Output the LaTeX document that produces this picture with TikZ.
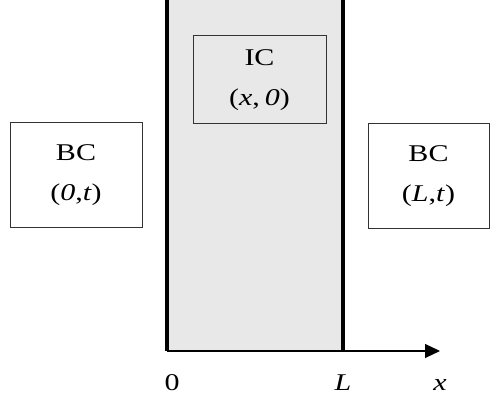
\documentclass[tikz,border=0pt]{standalone}
\usepackage{fontspec}
\usepackage{graphicx}
\setmainfont{Liberation Serif}
\usetikzlibrary{arrows.meta}
\tikzset{
	condbox/.style={draw=black!80, line width=1pt, align=center, inner sep=0pt,
		font=\fontsize{24}{40}\selectfont},
	wall/.style={line width=4pt},
	axislabel/.style={font=\fontsize{24}{28}\selectfont}
}
\newcommand{\wide}[1]{\scalebox{1.25}[1]{#1}}
\newcommand{\cond}[2]{\wide{#1}\\\wide{#2}}
\begin{document}
\begin{tikzpicture}[x=1pt,y=1pt]
			\useasboundingbox (0,0) rectangle (490,404);
			\coordinate (o) at (167,53);
			\coordinate (l) at (343,53);
			\coordinate (xend) at (440,53);
			\fill[black!9] (o) rectangle (343,404);
			\draw[wall] (o) -- (167,404);
			\draw[wall] (l) -- (343,404);
			\draw[line width=1.2pt, -{Triangle[length=15pt,width=14pt]}] (o) -- (xend);
			
			\node[condbox, minimum width=132pt, minimum height=105pt] (bcleft) at (76,228.5)
				{\cond{BC}{(\textit{0},\textit{t})}};
			\node[condbox, minimum width=133pt, minimum height=88pt] (ic) at (259.5,324)
				{\cond{IC}{(\textit{x},\,\textit{0})}};
			\node[condbox, minimum width=121pt, minimum height=105pt] (bcright) at (428.5,227.5)
				{\cond{BC}{(\textit{L},\textit{t})}};
			
			\node[axislabel] (lblo) at (172,21) {\wide{0}};
			\node[axislabel] (lbll) at (343,21) {\wide{\textit{L}}};
			\node[axislabel] (lblx) at (440,19) {\wide{\textit{x}}};
		\end{tikzpicture}
\end{document}
